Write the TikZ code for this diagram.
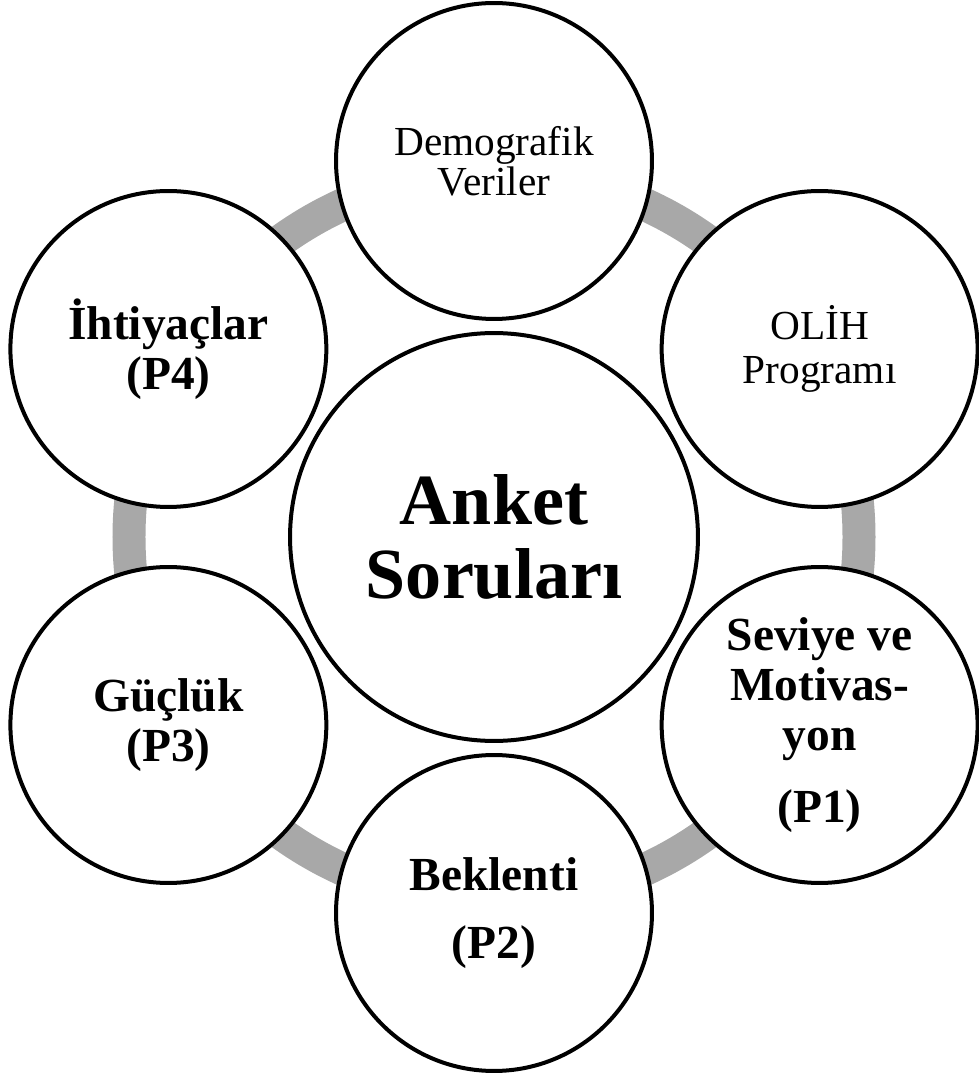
\documentclass[tikz,border=0pt]{standalone}
\usepackage{fontspec}
\setmainfont{Liberation Serif}
\definecolor{ringgray}{RGB}{168,168,168}
\begin{document}
\begin{tikzpicture}[x=0.02cm,y=0.02cm,
	part/.style={circle,draw=black,fill=white,line width=0.08cm,
		minimum size=6.32cm,inner sep=0pt,align=center},
	boldtext/.style={font=\bfseries\fontsize{27}{28.5}\selectfont},
	plaintext/.style={font=\fontsize{23.5}{24}\selectfont}]
\def\hexr{376}
\useasboundingbox (-494,-537) rectangle (484,537);
% ring behind the circles
\draw[color=ringgray,line width=0.66cm] (0,0) circle[radius=365];

\node[part,plaintext] (demo) at (90:\hexr) {Demografik\\[-1pt]Veriler};
\node[part,plaintext] (olih) at (30:\hexr) {OLİH\\[1.5pt]Programı};
\node[part,boldtext] (p1) at (-30:\hexr)
	{Seviye ve\\Motivas-\\yon\\[12pt](P1)};
\node[part,boldtext] (p2) at (-90:\hexr) {Beklenti\\[10pt](P2)};
\node[part,boldtext] (p3) at (210:\hexr) {Güçlük\\(P3)};
\node[part,boldtext] (p4) at (150:\hexr) {İhtiyaçlar\\(P4)};

\node[part,minimum size=8.16cm,font=\bfseries\fontsize{41}{42.5}\selectfont]
	(anket) at (0,0) {Anket\\Soruları};
\end{tikzpicture}
\end{document}
